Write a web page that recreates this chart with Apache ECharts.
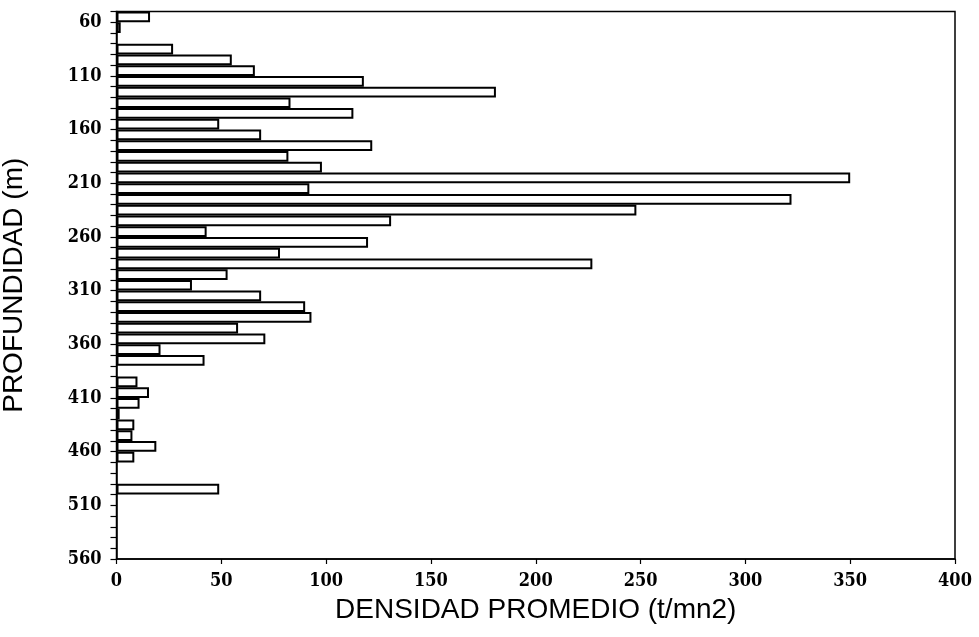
<!DOCTYPE html>
<html>
<head>
<meta charset="utf-8">
<script src="https://cdn.jsdelivr.net/npm/echarts@6/dist/echarts.min.js"></script>
<style>html,body{margin:0;padding:0;background:#fff;}#c{width:979px;height:637px;}</style>
</head>
<body>
<div id="c"></div>
<script>
// Depth bins (start of each 10 m bin)
const depthBins = [50,60,70,80,90,100,110,120,130,140,150,160,170,180,190,200,210,220,230,240,250,260,270,280,290,300,310,320,330,340,350,360,370,380,390,400,410,420,430,440,450,460,470,480,490,500,510,520,530,540,550];
// Mean density per bin (t/mn2); null = no bar
const density = [16,2,null,27,55,66,118,181,83,113,49,69,122,82,98,350,92,322,248,131,43,120,78,227,53,36,69,90,93,58,71,21,42,null,10,15.5,11,1.5,8.5,7.6,19,8.5,null,null,49,null,null,null,null,null,null];
const xTicks = [0,50,100,150,200,250,300,350,400];
const depthLabels = [60,110,160,210,260,310,360,410,460,510,560];

const chart = echarts.init(document.getElementById('c'));
const tickFont = {fontFamily:'DejaVu Serif Condensed', fontWeight:'bold', fontSize:18, color:'#000'};
chart.setOption({
  animation:false,
  backgroundColor:'#fff',
  grid:{left:116.5, right:24, top:11.5, bottom:78, show:true, borderColor:'#000', borderWidth:1.5, backgroundColor:'transparent', outerBoundsMode:'none', containLabel:false},
  xAxis:{
    type:'value', min:xTicks[0], max:xTicks[xTicks.length-1], interval:50,
    name:'DENSIDAD PROMEDIO (t/mn2)', nameLocation:'middle', nameGap:37,
    nameTextStyle:{fontFamily:'Liberation Sans', fontSize:28, color:'#000'},
    axisLine:{show:true, lineStyle:{color:'#000', width:1.5}},
    axisTick:{show:true, length:5, lineStyle:{color:'#000', width:1.2}},
    axisLabel:Object.assign({margin:13}, tickFont),
    splitLine:{show:false}
  },
  yAxis:[
    {type:'category', data:depthBins, inverse:true, show:false, boundaryGap:true},
    {type:'value', min:50, max:560, interval:10, inverse:true, position:'left',
     name:'PROFUNDIDAD (m)', nameLocation:'middle', nameGap:88, nameRotate:90,
     nameTextStyle:{fontFamily:'Liberation Sans', fontSize:28, color:'#000'},
     axisLine:{show:true, lineStyle:{color:'#000', width:1.5}},
     axisTick:{show:true, length:6, lineStyle:{color:'#000', width:1.2}},
     axisLabel:Object.assign({margin:15, formatter:function(v){return depthLabels.indexOf(v)>=0?String(v):'';}}, tickFont),
     splitLine:{show:false}}
  ],
  series:[{
    type:'bar', yAxisIndex:0, data:density,
    barCategoryGap:'0%', barGap:'0%',
    itemStyle:{color:'#fff', borderColor:'#000', borderWidth:2}
  }]
});
</script>
</body>
</html>
